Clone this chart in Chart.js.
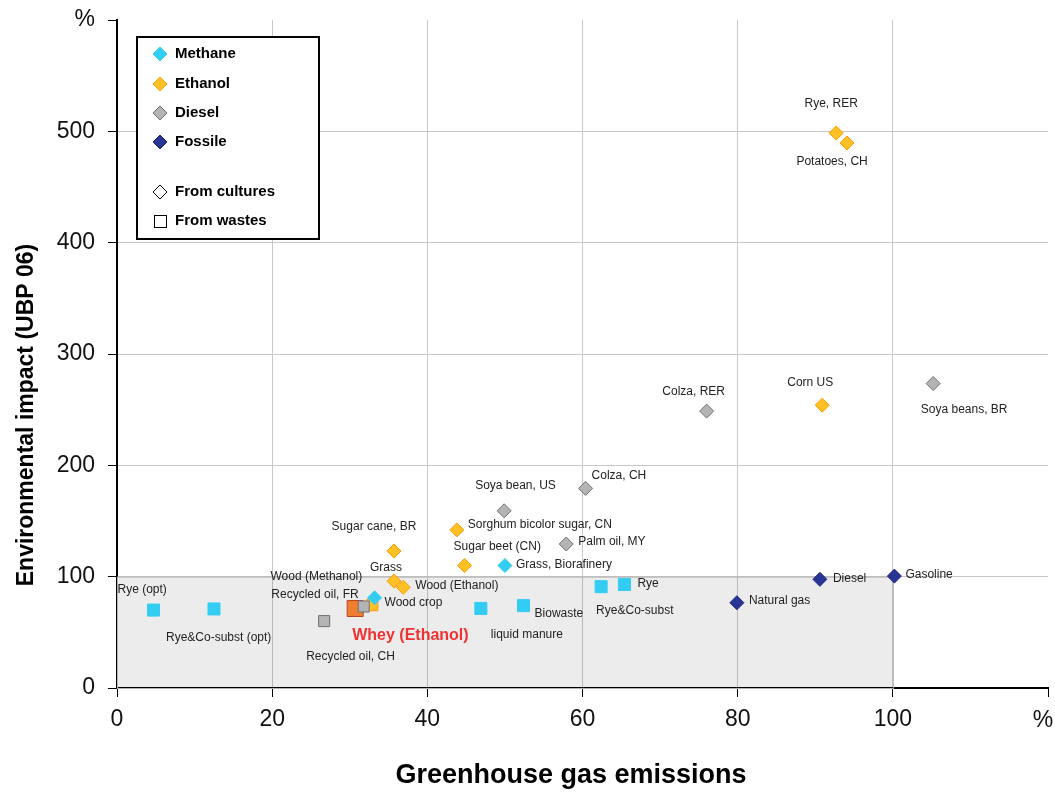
<!DOCTYPE html>
<html>
<head>
<meta charset="utf-8">
<script src="https://cdn.jsdelivr.net/npm/chart.js@4.4.0/dist/chart.umd.min.js"></script>
<style>
  html, body { margin: 0; padding: 0; background: #fff; }
  #wrap { width: 1055px; height: 794px; position: relative; }
</style>
</head>
<body>
<div id="wrap"><canvas id="chart"></canvas></div>
<script>
// Values.
// x = greenhouse gas emissions (%), y = environmental impact, UBP 06 (%), petrol = 100/100
const methaneNames  = ['Rye (opt)', 'Rye&Co-subst (opt)', 'liquid manure', 'Biowaste', 'Rye&Co-subst', 'Rye', 'Wood crop', 'Grass, Biorafinery'];
const methaneGhg    = [4.7, 12.5, 46.9, 52.4, 62.4, 65.4, 33.2, 50.0];
const methaneUbp    = [70, 71, 71.5, 74, 91, 93, 81, 110];
const methaneSource = ['waste', 'waste', 'waste', 'waste', 'waste', 'waste', 'culture', 'culture'];

const ethanolNames  = ['Rye, RER', 'Potatoes, CH', 'Corn US', 'Sugar cane, BR', 'Sorghum bicolor sugar, CN', 'Sugar beet (CN)', 'Grass', 'Wood (Ethanol)', 'Wood (Methanol)'];
const ethanolGhg    = [92.7, 94.1, 90.9, 35.7, 43.8, 44.8, 35.7, 36.9, 32.9];
const ethanolUbp    = [498.5, 489.5, 254, 123, 142, 110, 96, 90.5, 74.5];
const ethanolSource = ['culture', 'culture', 'culture', 'culture', 'culture', 'culture', 'culture', 'culture', 'waste'];

const wheyNames  = ['Whey (Ethanol)'];
const wheyGhg    = [30.7];
const wheyUbp    = [71.4];
const wheySource = ['waste'];

const dieselNames  = ['Soya beans, BR', 'Colza, RER', 'Colza, CH', 'Soya bean, US', 'Palm oil, MY', 'Recycled oil, FR', 'Recycled oil, CH'];
const dieselGhg    = [105.2, 76.0, 60.4, 49.9, 57.9, 31.8, 26.7];
const dieselUbp    = [273.5, 248.7, 179.3, 159.2, 129.3, 73.2, 60.1];
const dieselSource = ['culture', 'culture', 'culture', 'culture', 'culture', 'waste', 'waste'];

const fossileNames  = ['Diesel', 'Gasoline', 'Natural gas'];
const fossileGhg    = [90.6, 100.2, 79.9];
const fossileUbp    = [97.6, 100.5, 76.6];
const fossileSource = ['culture', 'culture', 'culture'];

const ghgTicks = [0, 20, 40, 60, 80, 100, 120];      // last one shown as "%"
const ubpTicks = [0, 100, 200, 300, 400, 500, 600];  // last one shown as "%"
const referenceBox = [100, 100];                     // shaded zone, fossil reference

const legendTypes   = ['Methane', 'Ethanol', 'Diesel', 'Fossile'];
const legendSources = ['From cultures', 'From wastes'];

// label placement next to each point: [dx px, dy px, align]
const methaneLabelAt = [[-36, -20, 'left'], [-48, 29, 'left'], [10, 26, 'left'], [11, 8, 'left'],
                        [-5, 24, 'left'], [13, -1, 'left'], [10, 5, 'left'], [11, -1, 'left']];
const ethanolLabelAt = [[-5, -29, 'center'], [-15, 19, 'center'], [-12, -23, 'center'], [-20, -24, 'center'],
                        [11, -5, 'left'], [-11, -19, 'left'], [-8, -13, 'center'], [12, -2, 'left'], [-10, -28, 'right']];
const wheyLabelAt    = [[-3, 27, 'left']];
const dieselLabelAt  = [[31, 26, 'center'], [-13, -19, 'center'], [6, -13, 'left'], [-29, -25, 'left'],
                        [12, -2, 'left'], [-5, -12, 'right'], [-18, 36, 'left']];
const fossileLabelAt = [[13, -1, 'left'], [11, -1, 'left'], [12, -2, 'left']];

const FONT = '"Liberation Sans", Arial, sans-serif';

const COLORS = {
  Methane: { fill: '#33ccf2', line: '#33ccf2' },
  Ethanol: { fill: '#ffc125', line: '#ff9a00' },
  Diesel:  { fill: '#b4b4b4', line: '#707070' },
  Fossile: { fill: '#283593', line: '#1a237e' },
  Whey:    { fill: '#ef7f2f', line: '#b8451f' },
};

const toPoints = (xs, ys) => xs.map((x, i) => ({ x, y: ys[i] }));
const styleOf  = src => src.map(s => (s === 'waste' ? 'rect' : 'rectRot'));

function series(label, names, xs, ys, src, labelAt, color, squareRadius) {
  return {
    label,
    names,
    labelAt,
    data: toPoints(xs, ys),
    pointStyle: styleOf(src),
    pointRadius: src.map(s => (s === 'waste' ? squareRadius : 7)),
    pointBackgroundColor: color.fill,
    pointBorderColor: color.line,
    pointBorderWidth: 1,
    showLine: false,
  };
}

const datasets = [
  series('Diesel',  dieselNames,  dieselGhg,  dieselUbp,  dieselSource,  dieselLabelAt,  COLORS.Diesel, 7.8),
  series('Methane', methaneNames, methaneGhg, methaneUbp, methaneSource, methaneLabelAt, COLORS.Methane, 8.5),
  series('Ethanol', ethanolNames, ethanolGhg, ethanolUbp, ethanolSource, ethanolLabelAt, COLORS.Ethanol, 8),
  series('Fossile', fossileNames, fossileGhg, fossileUbp, fossileSource, fossileLabelAt, COLORS.Fossile, 7),
  series('Whey',    wheyNames,    wheyGhg,    wheyUbp,    wheySource,    wheyLabelAt,    COLORS.Whey, 11.3),
];
datasets[4].labelFont = 'bold 16px ' + FONT;
datasets[4].labelColor = '#f03232';

const tickFont = { family: FONT, size: 23 };
const GHG_END = ghgTicks[ghgTicks.length - 1];
const UBP_END = ubpTicks[ubpTicks.length - 1];

// Shaded reference zone (0..100 / 0..100)
const refZone = {
  id: 'refZone',
  beforeDatasetsDraw(chart) {
    const { ctx, scales: { x, y } } = chart;
    const x0 = x.getPixelForValue(0), x1 = x.getPixelForValue(referenceBox[0]);
    const y0 = y.getPixelForValue(0), y1 = y.getPixelForValue(referenceBox[1]);
    ctx.save();
    ctx.fillStyle = 'rgba(0,0,0,0.075)';
    ctx.fillRect(x0, y1, x1 - x0, y0 - y1);
    ctx.strokeStyle = '#b4b4b4';
    ctx.lineWidth = 1;
    ctx.strokeRect(x0 + 0.5, y1 + 0.5, x1 - x0, y0 - y1);
    ctx.restore();
  },
};

// Text next to each point
const pointLabels = {
  id: 'pointLabels',
  afterDatasetsDraw(chart) {
    const ctx = chart.ctx;
    ctx.save();
    ctx.textBaseline = 'middle';
    chart.data.datasets.forEach((ds, i) => {
      chart.getDatasetMeta(i).data.forEach((pt, j) => {
        const [dx, dy, align] = ds.labelAt[j];
        ctx.font = ds.labelFont || '12px ' + FONT;
        ctx.fillStyle = ds.labelColor || '#222';
        ctx.textAlign = align;
        ctx.fillText(ds.names[j], pt.x + dx, pt.y + dy);
      });
    });
    ctx.restore();
  },
};

// Boxed legend in the top-left corner, axis titles, "%" at the end of the x axis
const legendBox = {
  id: 'legendBox',
  afterDraw(chart) {
    const ctx = chart.ctx;
    ctx.save();
    ctx.fillStyle = '#fff';
    ctx.fillRect(137, 37, 182, 202);
    ctx.strokeStyle = '#000';
    ctx.lineWidth = 2;
    ctx.strokeRect(137, 37, 182, 202);

    const diamond = (cx, cy, r) => {
      ctx.beginPath();
      ctx.moveTo(cx, cy - r); ctx.lineTo(cx + r, cy); ctx.lineTo(cx, cy + r); ctx.lineTo(cx - r, cy);
      ctx.closePath();
    };
    ctx.font = 'bold 15px ' + FONT;
    ctx.textBaseline = 'middle';
    ctx.textAlign = 'left';
    ctx.lineWidth = 1;
    const rows = [54, 84, 113, 142];
    legendTypes.forEach((name, i) => {
      diamond(160, rows[i], 7);
      ctx.fillStyle = COLORS[name].fill;
      ctx.fill();
      ctx.strokeStyle = COLORS[name].line;
      ctx.stroke();
      ctx.fillStyle = '#000';
      ctx.fillText(name, 175, rows[i]);
    });
    // culture / waste shapes
    ctx.strokeStyle = '#000';
    ctx.fillStyle = '#fff';
    diamond(160, 192, 7);
    ctx.fill(); ctx.stroke();
    ctx.fillRect(154.5, 215.5, 12, 12);
    ctx.strokeRect(154.5, 215.5, 12, 12);
    ctx.fillStyle = '#000';
    ctx.fillText(legendSources[0], 175, 192);
    ctx.fillText(legendSources[1], 175, 221);

    // unit at the end of the x axis
    ctx.fillStyle = '#111';
    ctx.textAlign = 'center';
    ctx.font = tickFont.size + 'px ' + FONT;
    ctx.fillText('%', chart.scales.x.getPixelForValue(GHG_END) - 5, chart.chartArea.bottom + 33);

    // axis titles
    ctx.fillStyle = '#000';
    ctx.font = 'bold 27px ' + FONT;
    ctx.fillText('Greenhouse gas emissions', 571, 776);
    ctx.translate(27, 415);
    ctx.rotate(-Math.PI / 2);
    ctx.font = 'bold 23px ' + FONT;
    ctx.fillText('Environmental impact (UBP 06)', 0, 0);
    ctx.restore();
  },
};

const hideLast = (last) => (c) => (c.tick && c.tick.value === last ? 'rgba(0,0,0,0)' : '#c8c8c8');

new Chart(document.getElementById('chart'), {
  type: 'scatter',
  data: { datasets },
  plugins: [refZone, pointLabels, legendBox],
  options: {
    animation: false,
    responsive: true,
    maintainAspectRatio: false,
    layout: { autoPadding: false, padding: { left: 0, right: 7, top: 20, bottom: 0 } },
    scales: {
      x: {
        type: 'linear',
        min: ghgTicks[0],
        max: GHG_END,
        afterBuildTicks: s => { s.ticks = ghgTicks.map(v => ({ value: v })); },
        afterFit: s => { s.height = 106; s.paddingLeft = 0; s.paddingRight = 0; },
        border: { color: '#000', width: 2 },
        grid: { color: hideLast(GHG_END), tickColor: '#000', tickLength: 9, lineWidth: 1 },
        ticks: {
          color: '#111', font: tickFont, padding: 9, maxRotation: 0, autoSkip: false,
          callback: v => (v === GHG_END ? '' : v),
        },
      },
      y: {
        type: 'linear',
        min: ubpTicks[0],
        max: UBP_END,
        afterBuildTicks: s => { s.ticks = ubpTicks.map(v => ({ value: v })); },
        afterFit: s => { s.width = 117; s.paddingTop = 0; s.paddingBottom = 0; },
        border: { color: '#000', width: 2 },
        grid: { color: hideLast(UBP_END), tickColor: '#000', tickLength: 9, lineWidth: 1 },
        ticks: {
          color: '#111', font: tickFont, padding: 13, autoSkip: false,
          callback: v => (v === UBP_END ? '%' : v),
        },
      },
    },
    plugins: {
      legend: { display: false },
      tooltip: { enabled: false },
    },
  },
});
</script>
</body>
</html>
